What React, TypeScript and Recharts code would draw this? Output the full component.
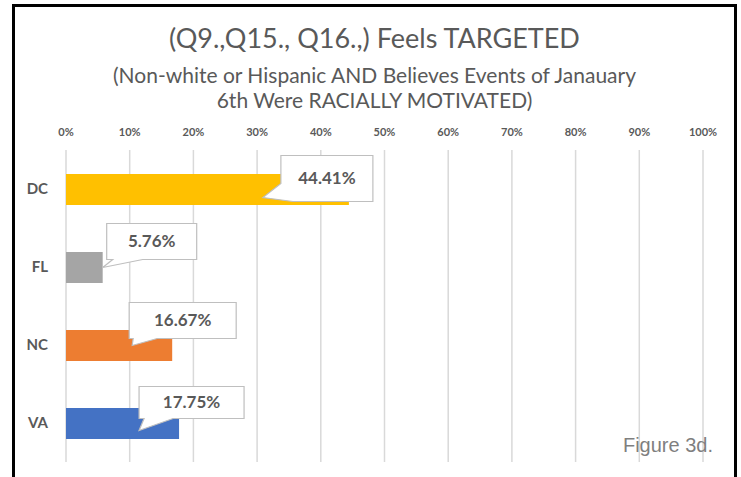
import React from "react";
import {BarChart, Bar, XAxis, YAxis, CartesianGrid, Cell, LabelList} from "recharts";

const states = ["DC", "FL", "NC", "VA"];
const shares = [0.4441, 0.0576, 0.1667, 0.1775];
const barColors = ["#FFC000", "#A5A5A5", "#ED7D31", "#4472C4"];
const percentTicks = [0, 0.1, 0.2, 0.3, 0.4, 0.5, 0.6, 0.7, 0.8, 0.9, 1];

const data = states.map((state, i) => ({state, share: shares[i]}));

// callout box placement, relative to the bar end and bar centre (moved by hand in the original)
const calloutLayout: Record<string, {left: number; top: number; w: number; h: number; tipX: number; tipY: number; baseA: number; baseB: number; side: "left" | "bottom"}> = {
  DC: {left: -68, top: -34, w: 92, h: 46, tipX: -86, tipY: 8, baseA: 28, baseB: 12, side: "left"},
  FL: {left: 4, top: -44, w: 90, h: 36, tipX: 0, tipY: 0, baseA: 6, baseB: 36, side: "bottom"},
  NC: {left: -43, top: -43, w: 107, h: 36, tipX: -40, tipY: 0, baseA: 4, baseB: 28, side: "bottom"},
  VA: {left: -40, top: -37, w: 105, h: 32, tipX: -40, tipY: 7, baseA: 5, baseB: 34, side: "bottom"},
};

const FONT = "Lato, 'Open Sans', sans-serif";
const GREY = "#595959";

function Callout(props: any) {
  const {x, y, width, height, value, index} = props;
  const key = states[index];
  const c = calloutLayout[key];
  const endX = x + width;
  const cy = y + height / 2;
  const x0 = endX + c.left;
  const y0 = cy + c.top;
  const x1 = x0 + c.w;
  const y1 = y0 + c.h;
  const tx = endX + c.tipX;
  const ty = cy + c.tipY;
  let d: string;
  if (c.side === "bottom") {
    d = `M${x0},${y0} H${x1} V${y1} H${x0 + c.baseB} L${tx},${ty} L${x0 + c.baseA},${y1} H${x0} Z`;
  } else {
    d = `M${x0},${y0} H${x1} V${y1} H${x0 + c.baseB} L${tx},${ty} L${x0},${y0 + c.baseA} Z`;
  }
  return (
    <g>
      <path d={d} fill="#ffffff" stroke="#bfbfbf" strokeWidth={1.2} />
      <text
        x={(x0 + x1) / 2}
        y={(y0 + y1) / 2 - 1}
        textAnchor="middle"
        dominantBaseline="central"
        fontFamily={FONT}
        fontSize={17}
        fontWeight={700}
        fill={GREY}
      >
        {(value * 100).toFixed(2) + "%"}
      </text>
    </g>
  );
}

export default function App() {
  return (
    <div style={{position: "fixed", left: 0, top: 0, width: 741, height: 477, overflow: "hidden", background: "#fff"}}>
      <div
        style={{
          position: "absolute",
          left: 12,
          top: 4,
          width: 725,
          height: 500,
          border: "3px solid #000",
          boxSizing: "border-box",
        }}
      />
      <div
        style={{
          position: "absolute",
          left: 0,
          width: 741,
          top: 21,
          textAlign: "center",
          fontFamily: FONT,
          color: GREY,
        }}
      >
        <div style={{fontSize: 27, lineHeight: "34px", marginLeft: 8}}>(Q9.,Q15., Q16.,) Feels TARGETED</div>
        <div style={{fontSize: 21, lineHeight: "25px", marginTop: 7, marginLeft: 8}}>
          (Non-white or Hispanic AND Believes Events of Janauary
          <br />
          6th Were RACIALLY MOTIVATED)
        </div>
      </div>
      <div style={{position: "absolute", left: 0, top: 0}}>
        <BarChart
          width={741}
          height={477}
          data={data}
          layout="vertical"
          margin={{top: 120, right: 38, bottom: 15, left: 0}}
          barCategoryGap="30%"
        >
          <CartesianGrid horizontal={false} stroke="#d9d9d9" strokeWidth={1.5} />
          <XAxis
            type="number"
            orientation="top"
            domain={[0, 1]}
            ticks={percentTicks}
            tickFormatter={(v: number) => `${Math.round(v * 100)}%`}
            axisLine={false}
            tickLine={false}
            tickSize={0}
            tickMargin={14}
            height={30}
            interval={0}
            tick={{fill: GREY, fontSize: 11, fontWeight: 700, fontFamily: FONT}}
          />
          <YAxis
            type="category"
            dataKey="state"
            width={66}
            axisLine={false}
            tickLine={false}
            tickSize={0}
            tickMargin={18}
            tick={{fill: GREY, fontSize: 15, fontWeight: 700, fontFamily: FONT}}
          />
          <Bar dataKey="share" barSize={31} isAnimationActive={false}>
            {data.map((d, i) => (
              <Cell key={d.state} fill={barColors[i]} />
            ))}
            <LabelList dataKey="share" content={Callout} />
          </Bar>
        </BarChart>
      </div>
      <div
        style={{
          position: "absolute",
          right: 28,
          top: 434,
          fontFamily: "'Liberation Sans', Arial, sans-serif",
          fontSize: 20,
          color: "#7f7f7f",
        }}
      >
        Figure 3d.
      </div>
    </div>
  );
}
